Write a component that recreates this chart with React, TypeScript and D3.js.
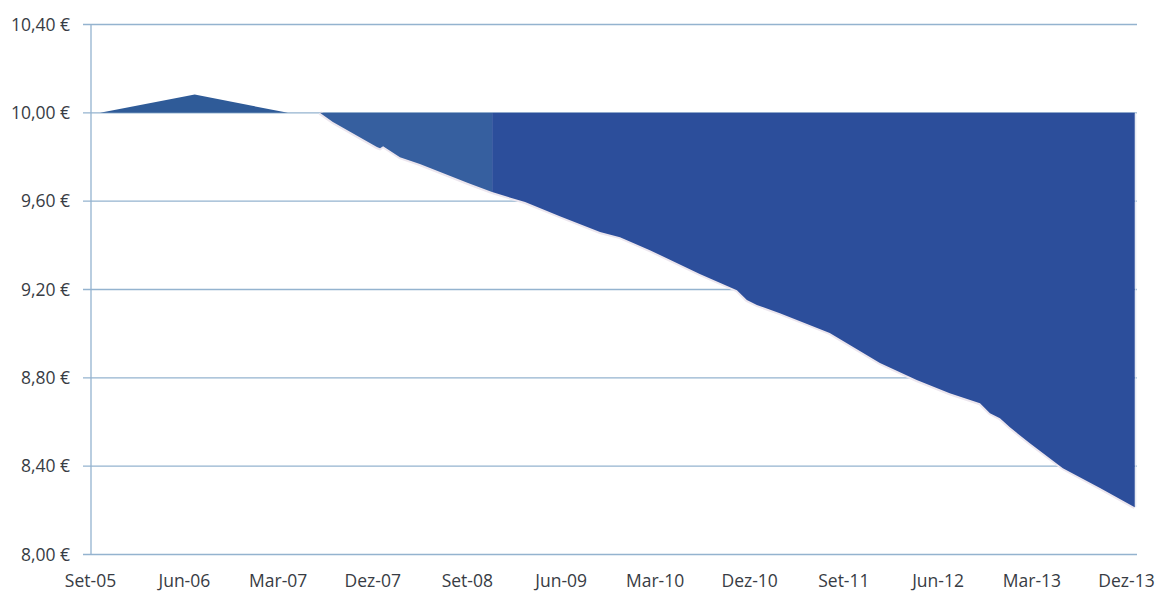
import React from "react";
import * as d3 from "d3";

const W = 1158;
const H = 592;

// Tick labels (every 9 months)
const xTickDates = ["2005-09-01","2006-06-01","2007-03-01","2007-12-01","2008-09-01","2009-06-01","2010-03-01","2010-12-01","2011-09-01","2012-06-01","2013-03-01","2013-12-01"];
const xTickLabels = ["Set-05","Jun-06","Mar-07","Dez-07","Set-08","Jun-09","Mar-10","Dez-10","Set-11","Jun-12","Mar-13","Dez-13"];
const yTicks = [8.0, 8.4, 8.8, 9.2, 9.6, 10.0, 10.4];
const yTickLabels = ["8,00 €","8,40 €","8,80 €","9,20 €","9,60 €","10,00 €","10,40 €"];

// Series 1: early hump above 10 €
const humpDates = ["2005-09-29","2006-07-01","2007-03-29"];
const humpValues = [10.0, 10.083, 10.0];

// Series 2: first decline (lighter blue)
const declineADates = ["2007-06-30","2007-08-07","2007-12-13","2007-12-22","2007-12-31","2008-02-18","2008-04-16","2008-09-03","2008-11-12"];
const declineAValues = [10.0, 9.958, 9.845, 9.84, 9.849, 9.799, 9.768, 9.682, 9.641];

// Series 3: later decline (darker blue)
const declineBDates = ["2008-11-12","2009-02-16","2009-05-28","2009-09-22","2009-11-19","2010-02-14","2010-07-09","2010-10-25","2010-11-23","2010-12-22","2011-02-27","2011-07-22","2011-12-15","2012-03-31","2012-07-05","2012-10-01","2012-10-30","2012-11-28","2012-12-27","2013-02-23","2013-05-30","2013-09-15","2013-12-25"];
const declineBValues = [9.641, 9.596, 9.532, 9.46, 9.437, 9.378, 9.27, 9.197, 9.152, 9.13, 9.093, 9.003, 8.867, 8.79, 8.73, 8.685, 8.64, 8.617, 8.576, 8.504, 8.391, 8.301, 8.214];

const parse = d3.timeParse("%Y-%m-%d");

type Pt = { d: Date; v: number };
const zip = (ds: string[], vs: number[]): Pt[] => ds.map((s, i) => ({ d: parse(s) as Date, v: vs[i] }));

export default function App() {
  const x = d3.scaleTime()
    .domain([parse("2005-09-01") as Date, parse("2013-12-01") as Date])
    .range([90.5, 1126.5]);
  const y = d3.scaleLinear().domain([8.0, 10.4]).range([554.5, 24.5]);

  const gridX0 = 83;
  const gridX1 = 1137;
  const axisX = 91;

  const area = d3.area<Pt>()
    .x((p) => x(p.d))
    .y0(() => y(10))
    .y1((p) => y(p.v));
  const line = d3.line<Pt>().x((p) => x(p.d)).y((p) => y(p.v));

  const hump = zip(humpDates, humpValues);
  const decA = zip(declineADates, declineAValues);
  const decB = zip(declineBDates, declineBValues);
  const lastB = decB[decB.length - 1];

  const gridColor = "#94b3cf";
  const font = "'Open Sans', 'Liberation Sans', sans-serif";

  return (
    <svg width={W} height={H} style={{ position: "absolute", left: 0, top: 0, background: "#fff" }}>
      <rect x={0} y={0} width={W} height={H} fill="#fff" />
      {/* gridlines */}
      {yTicks.map((t, i) => (
        <line key={i} x1={gridX0} x2={gridX1} y1={y(t)} y2={y(t)} stroke={gridColor} strokeWidth={1.3} />
      ))}
      {/* vertical axis */}
      <line x1={axisX} x2={axisX} y1={y(10.4)} y2={y(8.0)} stroke={gridColor} strokeWidth={1.3} />

      {/* halo under edges */}
      <path d={line([...decA, ...decB.slice(1)]) || ""} fill="none" stroke="#ece6ee" strokeWidth={4} />

      {/* areas */}
      <path d={area(hump) || ""} fill="#2f5b98" />
      <path d={area(decA) || ""} fill="#365f9f" />
      <path d={area(decB) || ""} fill="#2c4e9b" />
      <line x1={x(lastB.d)} x2={x(lastB.d)} y1={y(10)} y2={y(lastB.v)} stroke="#dfe4ee" strokeWidth={1} transform="translate(1,0)" />

      {/* y labels */}
      {yTicks.map((t, i) => (
        <text key={i} x={70} y={y(t)} dy="0.35em" textAnchor="end" fontFamily={font} fontSize={17.5} fill="#383c44">
          {yTickLabels[i]}
        </text>
      ))}
      {/* x labels */}
      {xTickDates.map((s, i) => (
        <text key={i} x={x(parse(s) as Date)} y={587} textAnchor="middle" fontFamily={font} fontSize={17.5} fill="#383c44">
          {xTickLabels[i]}
        </text>
      ))}
    </svg>
  );
}
